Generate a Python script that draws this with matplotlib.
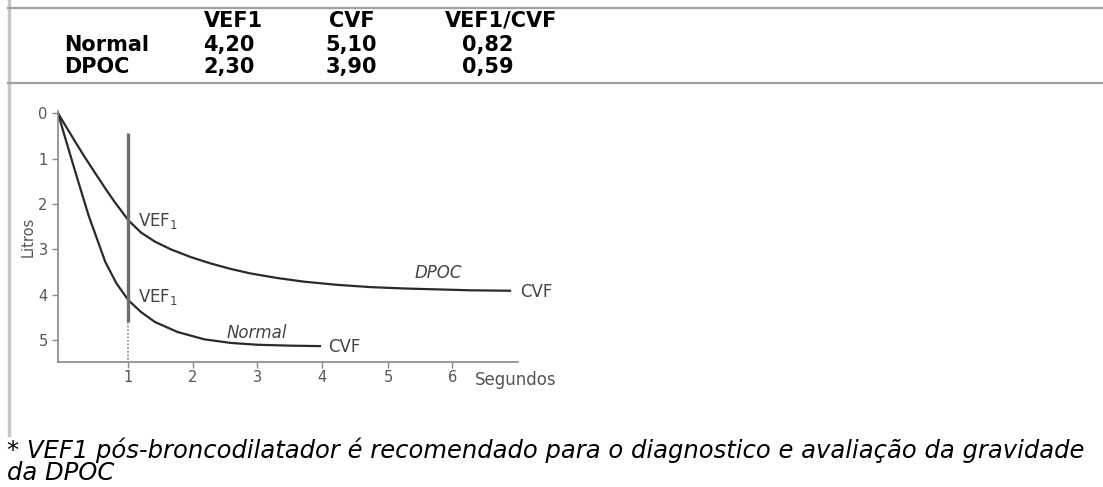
import matplotlib.pyplot as plt
from matplotlib.lines import Line2D

plt.rcParams['font.family'] = ['DejaVu Sans']

# tabela
colunas = ["VEF1", "CVF", "VEF1/CVF"]
grupos = ["Normal", "DPOC"]
valores = [["4,20", "5,10", "0,82"],
           ["2,30", "3,90", "0,59"]]

# curvas (segundos, litros)
t_normal = [0, 0.13, 0.26, 0.36, 0.46, 0.58, 0.71, 0.88, 1.06, 1.25, 1.46, 1.8, 2.2, 2.6, 3.0, 3.5, 3.94]
v_normal = [0, 0.65, 1.29, 1.77, 2.25, 2.74, 3.27, 3.75, 4.12, 4.38, 4.6, 4.82, 4.98, 5.06, 5.1, 5.12, 5.13]
t_dpoc = [0, 0.26, 0.4, 0.56, 0.7, 0.85, 1.06, 1.25, 1.46, 1.7, 2.0, 2.3, 2.6, 2.9, 3.3, 3.7,
          4.2, 4.7, 5.2, 5.7, 6.2, 6.8]
v_dpoc = [0, 0.63, 0.96, 1.32, 1.63, 1.95, 2.36, 2.63, 2.83, 3.0, 3.17, 3.31, 3.43, 3.53, 3.63, 3.71,
          3.78, 3.83, 3.86, 3.88, 3.9, 3.91]

nota = ("* VEF1 pós-broncodilatador é recomendado para o diagnostico e avaliação da gravidade\n"
        "da DPOC")

W, H = 1103, 487
fig = plt.figure(figsize=(W / 100, H / 100), dpi=100)

def fx(px):
    return px / W

def fy(py):
    return 1 - py / H

# linhas de moldura
fig.add_artist(Line2D([fx(8.5), fx(8.5)], [fy(0), fy(435)], color="#c8c8c8", lw=2.5))
fig.add_artist(Line2D([fx(8), 1], [fy(7.5), fy(7.5)], color="#a0a0a0", lw=1.6))
fig.add_artist(Line2D([fx(8), 1], [fy(82.5), fy(82.5)], color="#a0a0a0", lw=1.6))

# tabela
col_x = [233, 352, 501]
val_x = [229, 351, 488]
row_y = [21, 45, 67]
fs_tab = 15
for c, x in zip(colunas, col_x):
    fig.text(fx(x), fy(row_y[0]), c, ha="center", va="center", fontsize=fs_tab, fontweight="bold")
for i, g in enumerate(grupos):
    fig.text(fx(64), fy(row_y[i + 1]), g, ha="left", va="center", fontsize=fs_tab, fontweight="bold")
    for j, x in enumerate(val_x):
        fig.text(fx(x), fy(row_y[i + 1]), valores[i][j], ha="center", va="center",
                 fontsize=fs_tab, fontweight="bold")

# grafico
ax = fig.add_axes([fx(58), fy(362), fx(518) - fx(58), fy(111) - fy(362)])
ax.set_xlim(0, 6.92)
ax.set_ylim(5.48, -0.05)
cor = "#2a2a2a"
ax.plot(t_normal, v_normal, color=cor, lw=1.6)
ax.plot(t_dpoc, v_dpoc, color=cor, lw=1.6)
ax.plot([1.06, 1.06], [0.44, 4.6], color="#6e6e6e", lw=2.4, solid_capstyle="butt")
ax.plot([1.06, 1.06], [4.6, 5.48], color="#999999", lw=1.3, ls=(0, (1, 1)))

for s in ["top", "right"]:
    ax.spines[s].set_visible(False)
for s in ["left", "bottom"]:
    ax.spines[s].set_color("#888888")
    ax.spines[s].set_linewidth(1.2)
ax.set_yticks([0, 1, 2, 3, 4, 5])
ax.set_xticks([1.06, 2.03, 3.0, 3.97, 4.97, 5.93])
ax.set_xticklabels(["1", "2", "3", "4", "5", "6"])
ax.tick_params(colors="#888888", labelcolor="#555555", labelsize=10.5, length=4, width=1)
ax.tick_params(axis="x", pad=1.5)
ax.set_ylabel("Litros", fontsize=10.5, color="#555555", labelpad=2)
ax.patch.set_alpha(0)

tc = "#444444"
fl = 12
ax.text(1.2, 2.38, "VEF$_{1}$", fontsize=fl, color=tc, va="center")
ax.text(1.2, 4.05, "VEF$_{1}$", fontsize=fl, color=tc, va="center")
ax.text(2.54, 4.85, "Normal", fontsize=fl, color=tc, style="italic", va="center")
ax.text(5.37, 3.52, "DPOC", fontsize=fl, color=tc, style="italic", va="center")
ax.text(4.06, 5.14, "CVF", fontsize=fl, color=tc, va="center")
ax.text(6.95, 3.93, "CVF", fontsize=fl, color=tc, va="center", clip_on=False)
fig.text(fx(475), fy(380), "Segundos", fontsize=fl, color="#555555", va="center")

# nota
fig.text(fx(7), fy(461), nota, fontsize=17.5, style="italic", va="center", ha="left",
         linespacing=0.92)

fig.savefig("out.png", dpi=100)
